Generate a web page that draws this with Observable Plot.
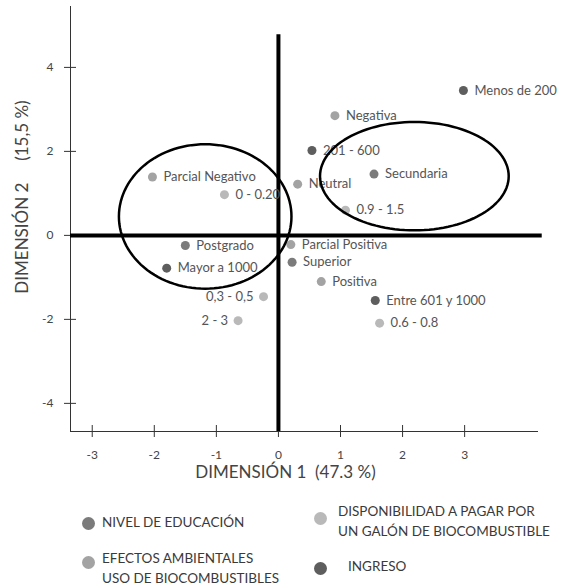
<!DOCTYPE html>
<html><head><meta charset="utf-8">
<script src="https://cdn.jsdelivr.net/npm/d3@7"></script>
<script src="https://cdn.jsdelivr.net/npm/@observablehq/plot@0.6"></script>
<style>
body{margin:0;background:#fff;font-family:Lato,"Open Sans",sans-serif;}
#wrap{position:relative;width:561px;height:588px;overflow:hidden;}
#wrap svg{display:block;}
.leg{position:absolute;font-size:13.5px;color:#3a3a3a;line-height:19.5px;white-space:nowrap;}
.dot{position:absolute;width:13px;height:13px;border-radius:50%;}
</style></head><body><div id="wrap"></div>
<script>
// ---- data ----
const labels = ["Menos de 200","Negativa","201 - 600","Secundaria","Neutral","0.9 - 1.5","Parcial Negativo","0 - 0.20","Postgrado","Mayor a 1000","0,3 - 0,5","2 - 3","Parcial Positiva","Superior","Positiva","Entre 601 y 1000","0.6 - 0.8"];
const dim1 = [2.98, 0.91, 0.54, 1.54, 0.31, 1.08, -2.03, -0.87, -1.50, -1.80, -0.24, -0.65, 0.20, 0.22, 0.69, 1.56, 1.63];
const dim2 = [3.45, 2.85, 2.02, 1.46, 1.22, 0.60, 1.39, 0.97, -0.24, -0.78, -1.46, -2.03, -0.22, -0.64, -1.10, -1.55, -2.09];
const groups = ["Ingreso","Efectos","Ingreso","Educacion","Efectos","Disponibilidad","Efectos","Disponibilidad","Educacion","Ingreso","Disponibilidad","Disponibilidad","Efectos","Educacion","Efectos","Ingreso","Disponibilidad"];
const leftLabels = ["0,3 - 0,5","2 - 3"];

const legendKeys = ["Educacion","Disponibilidad","Efectos","Ingreso"];
const legendTexts = ["NIVEL DE EDUCACIÓN","DISPONIBILIDAD A PAGAR POR<br>UN GALÓN DE BIOCOMBUSTIBLE","EFECTOS AMBIENTALES<br>USO DE BIOCOMBUSTIBLES","INGRESO"];
const groupColors = ["#7b7b7b","#b9b9b9","#a3a3a3","#5e5e5e"];

const xTicks = [-3,-2,-1,0,1,2,3];
const yTicks = [-4,-2,0,2,4];
const xDomain = [-3.35, 4.19];
const yDomain = [-4.67, 5.45];

// circled groups (centre and radii in data units)
const ellCx = [-1.18, 2.19];
const ellCy = [0.45, 1.41];
const ellRx = [1.39, 1.52];
const ellRy = [1.72, 1.29];

const xTitle = "DIMENSIÓN 1\u00a0\u00a0(47.3 %)";
const yTitle = "DIMENSIÓN 2\u00a0\u00a0\u00a0\u00a0\u00a0(15,5 %)";

// ---- build ----
const rows = labels.map((l,i)=>({label:l, x:dim1[i], y:dim2[i], group:groups[i]}));
const ellPts = [];
ellCx.forEach((cx,k)=>{
  for(let a=0;a<=360;a+=3){
    const t=a*Math.PI/180;
    ellPts.push({id:k, x:cx+ellRx[k]*Math.cos(t), y:ellCy[k]+ellRy[k]*Math.sin(t)});
  }
});

const plot = Plot.plot({
  width:561, height:500,
  marginLeft:70, marginRight:23, marginTop:6, marginBottom:69,
  x:{domain:xDomain, label:null},
  y:{domain:yDomain, label:null},
  color:{domain:legendKeys, range:groupColors},
  style:{fontFamily:"Lato, 'Open Sans', sans-serif", background:"#fff", color:"#444"},
  marks:[
    Plot.ruleX([xDomain[0]], {stroke:"#333", strokeWidth:1}),
    Plot.ruleY([yDomain[0]], {stroke:"#333", strokeWidth:1}),
    Plot.axisY(yTicks, {tickSize:12, dx:6, stroke:"#333", tickFormat:()=>"", label:null}),
    Plot.axisY(yTicks, {tickSize:0, tickPadding:17, fontSize:12, fill:"#444", tickFormat:d=>String(d), label:null}),
    Plot.axisX(xTicks, {tickSize:12, dy:-6, stroke:"#333", tickFormat:()=>"", label:null}),
    Plot.axisX(xTicks, {tickSize:0, tickPadding:19, fontSize:12, fill:"#444", tickFormat:d=>String(d), label:null}),
    Plot.ruleY([0], {x1:xDomain[0], x2:4.25, stroke:"#000", strokeWidth:4}),
    Plot.ruleX([0], {y1:yDomain[0], y2:4.78, stroke:"#000", strokeWidth:4}),
    Plot.dot(rows, {x:"x", y:"y", r:4.5, fill:"group"}),
    Plot.text(rows.filter(d=>!leftLabels.includes(d.label)), {x:"x", y:"y", text:"label", dx:11, textAnchor:"start", fontSize:13, fill:"#555"}),
    Plot.text(rows.filter(d=>leftLabels.includes(d.label)), {x:"x", y:"y", text:"label", dx:-10, textAnchor:"end", fontSize:13, fill:"#555"}),
    Plot.line(ellPts, {x:"x", y:"y", z:"id", stroke:"#000", strokeWidth:2.5}),
    Plot.text([xTitle], {frameAnchor:"bottom", dy:46, dx:-19, fontSize:17, fill:"#444"}),
    Plot.text([yTitle], {frameAnchor:"left", textAnchor:"middle", rotate:-90, dx:-48, dy:-22, fontSize:17, fill:"#444"})
  ]
});

const wrap = document.getElementById("wrap");
wrap.appendChild(plot);

const legPos = [
  {dx:88, dy:523, tx:102, ty:513},
  {dx:320, dy:518, tx:338, ty:502},
  {dx:88, dy:562, tx:102, ty:549},
  {dx:320, dy:568, tx:348, ty:557}
];
legendKeys.forEach((k,i)=>{
  const p = legPos[i];
  const d = document.createElement("div");
  d.className="dot";
  d.style.left=(p.dx-6.5)+"px"; d.style.top=(p.dy-6.5)+"px";
  d.style.background=groupColors[i];
  wrap.appendChild(d);
  const t = document.createElement("div");
  t.className="leg";
  t.style.left=p.tx+"px"; t.style.top=p.ty+"px";
  t.innerHTML=legendTexts[i];
  wrap.appendChild(t);
});
</script>
</body></html>
